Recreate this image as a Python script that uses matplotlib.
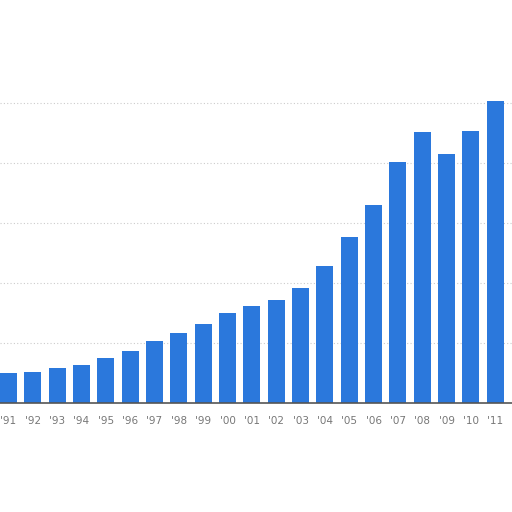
import matplotlib
matplotlib.use("Agg")
import matplotlib.pyplot as plt

years = ["'91", "'92", "'93", "'94", "'95", "'96", "'97", "'98", "'99", "'00",
         "'01", "'02", "'03", "'04", "'05", "'06", "'07", "'08", "'09", "'10", "'11"]
values = [0.50, 0.52, 0.58, 0.63, 0.75, 0.87, 1.03, 1.17, 1.32, 1.50,
          1.62, 1.72, 1.92, 2.28, 2.77, 3.30, 4.02, 4.52, 4.15, 4.53, 5.03]

fig = plt.figure(figsize=(5.12, 5.12), dpi=100)
ax = fig.add_axes([0, 109/512, 1, 360/512])
x = list(range(len(years)))
ax.bar(x, values, width=0.70, color="#2b78dc", zorder=2)
ax.set_ylim(0, 6)
ax.set_xlim(-0.349, 20.69)
ax.set_yticks([1, 2, 3, 4, 5])
ax.yaxis.grid(True, linestyle=(0, (1, 2)), color="#cccccc", linewidth=0.8, zorder=0)
ax.tick_params(axis="y", left=False, labelleft=False)
ax.set_xticks(x)
ax.set_xticklabels(years, fontsize=7.5, color="#777777")
ax.tick_params(axis="x", length=0, pad=9)
for s in ["top", "left", "right"]:
    ax.spines[s].set_visible(False)
ax.spines["bottom"].set_color("#555555")
ax.spines["bottom"].set_linewidth(1.2)
fig.savefig("out.png", dpi=100)
